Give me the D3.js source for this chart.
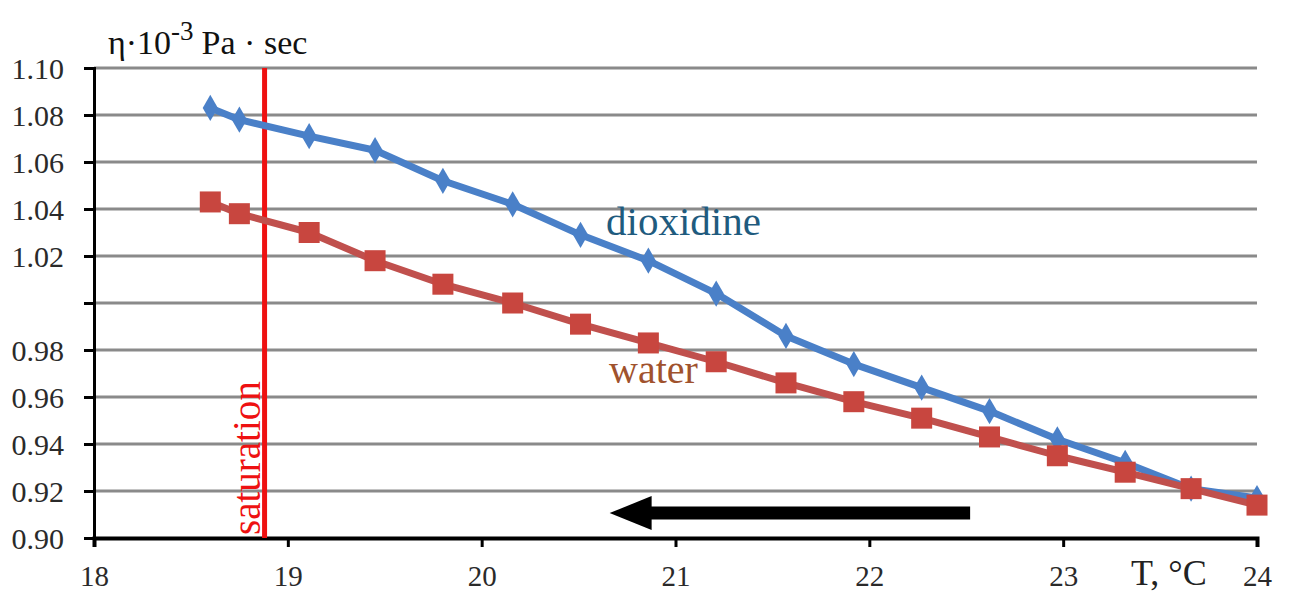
<!DOCTYPE html>
<html><head><meta charset="utf-8">
<script src="https://cdn.jsdelivr.net/npm/d3@7"></script>
<style>body{margin:0;background:#fff}svg{display:block}text{font-family:"Liberation Serif","Times New Roman",serif}</style>
</head><body><svg id="c" width="1289" height="592"></svg>
<script>
const temps = [18.6,18.75,19.11,19.45,19.8,20.16,20.51,20.86,21.21,21.57,21.92,22.27,22.62,22.97,23.32,23.66,24.0];
const dioxidine = [1.083,1.078,1.071,1.065,1.052,1.042,1.029,1.018,1.004,0.986,0.974,0.964,0.954,0.942,0.932,0.921,0.917];
const water = [1.043,1.038,1.030,1.018,1.008,1.000,0.991,0.983,0.975,0.966,0.958,0.951,0.943,0.935,0.928,0.921,0.914];
const yTicks = [0.90,0.92,0.94,0.96,0.98,1.00,1.02,1.04,1.06,1.08,1.10];
const xTicks = [18,19,20,21,22,23,24];
const saturationT = 18.88;
const arrowFrom = [22.52, 0.9106], arrowTo = [20.66, 0.9106];

const svg = d3.select('#c');
const x = d3.scaleLinear().domain([18,24]).range([94,1257]);
const y = d3.scaleLinear().domain([0.90,1.10]).range([538,68]);
const serif = '"Liberation Serif","Times New Roman",serif';

// gridlines
svg.append('g').selectAll('line').data(yTicks.slice(1)).join('line')
  .attr('x1',x(18)).attr('x2',x(24)).attr('y1',d=>y(d)).attr('y2',d=>y(d))
  .attr('stroke','#8a8a8a').attr('stroke-width',3);

// y axis
const ya = svg.append('g').attr('transform',`translate(${x(18)},0)`)
  .call(d3.axisLeft(y).tickValues(yTicks).tickSize(10).tickPadding(20)
    .tickFormat(d=>Math.abs(d-1)<1e-9?'':d3.format('.2f')(d)));
ya.attr('font-family',null).attr('font-size',null);
ya.select('.domain').attr('stroke','#000').attr('stroke-width',3);
ya.selectAll('.tick line').attr('stroke','#000').attr('stroke-width',3);
ya.selectAll('text').style('font-family',serif).style('font-size','30px').attr('fill','#2a2a2a').attr('dy','0.36em');

// x axis
const xa = svg.append('g').attr('transform',`translate(0,${y(0.90)})`)
  .call(d3.axisBottom(x).tickValues(xTicks).tickSize(9).tickFormat(d3.format('d')));
xa.attr('font-family',null).attr('font-size',null);
xa.select('.domain').attr('stroke','#000').attr('stroke-width',4);
xa.selectAll('.tick line').attr('stroke','#000').attr('stroke-width',3);
xa.selectAll('text').style('font-family',serif).style('font-size','29px').attr('fill','#2a2a2a')
  .attr('y',48).attr('dy',0);

// saturation
svg.append('line').attr('x1',x(saturationT)).attr('x2',x(saturationT))
  .attr('y1',y(1.10)).attr('y2',y(0.90)).attr('stroke','#ee1111').attr('stroke-width',5);
svg.append('text').attr('transform',`translate(${x(saturationT)-5},${y(0.90)-3}) rotate(-90)`)
  .style('font-family',serif).style('font-size','39px').attr('fill','#ee1111').text('saturation');

// series
const line = d3.line().x((d,i)=>x(temps[i])).y(d=>y(d));
svg.append('path').datum(dioxidine).attr('d',line).attr('fill','none')
  .attr('stroke','#4a80c8').attr('stroke-width',7).attr('stroke-linejoin','round');
svg.append('g').selectAll('path').data(dioxidine).join('path')
  .attr('d',d3.symbol().type(d3.symbolDiamond).size(200))
  .attr('transform',(d,i)=>`translate(${x(temps[i])},${y(d)})`).attr('fill','#4a80c8');
svg.append('path').datum(water).attr('d',line).attr('fill','none')
  .attr('stroke','#c0504d').attr('stroke-width',7).attr('stroke-linejoin','round');
svg.append('g').selectAll('rect').data(water).join('rect')
  .attr('x',(d,i)=>x(temps[i])-10.5).attr('y',d=>y(d)-10.5).attr('width',21).attr('height',21)
  .attr('fill','#c8463f');

// labels
svg.append('text').attr('x',606).attr('y',235).style('font-family',serif).style('font-size','41px')
  .attr('fill','#1f5b7e').text('dioxidine');
svg.append('text').attr('x',609).attr('y',383).style('font-family',serif).style('font-size','40px')
  .attr('fill','#a0522d').text('water');

// arrow
const ax1 = x(arrowFrom[0]), ax2 = x(arrowTo[0]), ay = y(arrowFrom[1]);
svg.append('line').attr('x1',ax1).attr('x2',ax2+30).attr('y1',ay).attr('y2',ay)
  .attr('stroke','#000').attr('stroke-width',13);
svg.append('path').attr('d',`M${ax2},${ay} L${ax2+42},${ay-17} L${ax2+42},${ay+17} Z`).attr('fill','#000');

// axis titles
const t = svg.append('text').attr('x',108).attr('y',54).style('font-family',serif).style('font-size','34px').attr('fill','#111');
t.append('tspan').text('η·10');
t.append('tspan').attr('dy',-14).style('font-size','27px').text('-3');
t.append('tspan').attr('dy',14).attr('dx',8).text('Pa · sec');
svg.append('text').attr('x',1131).attr('y',585).style('font-family',serif).style('font-size','36px').attr('fill','#222').text('T, °C');
</script></body></html>
